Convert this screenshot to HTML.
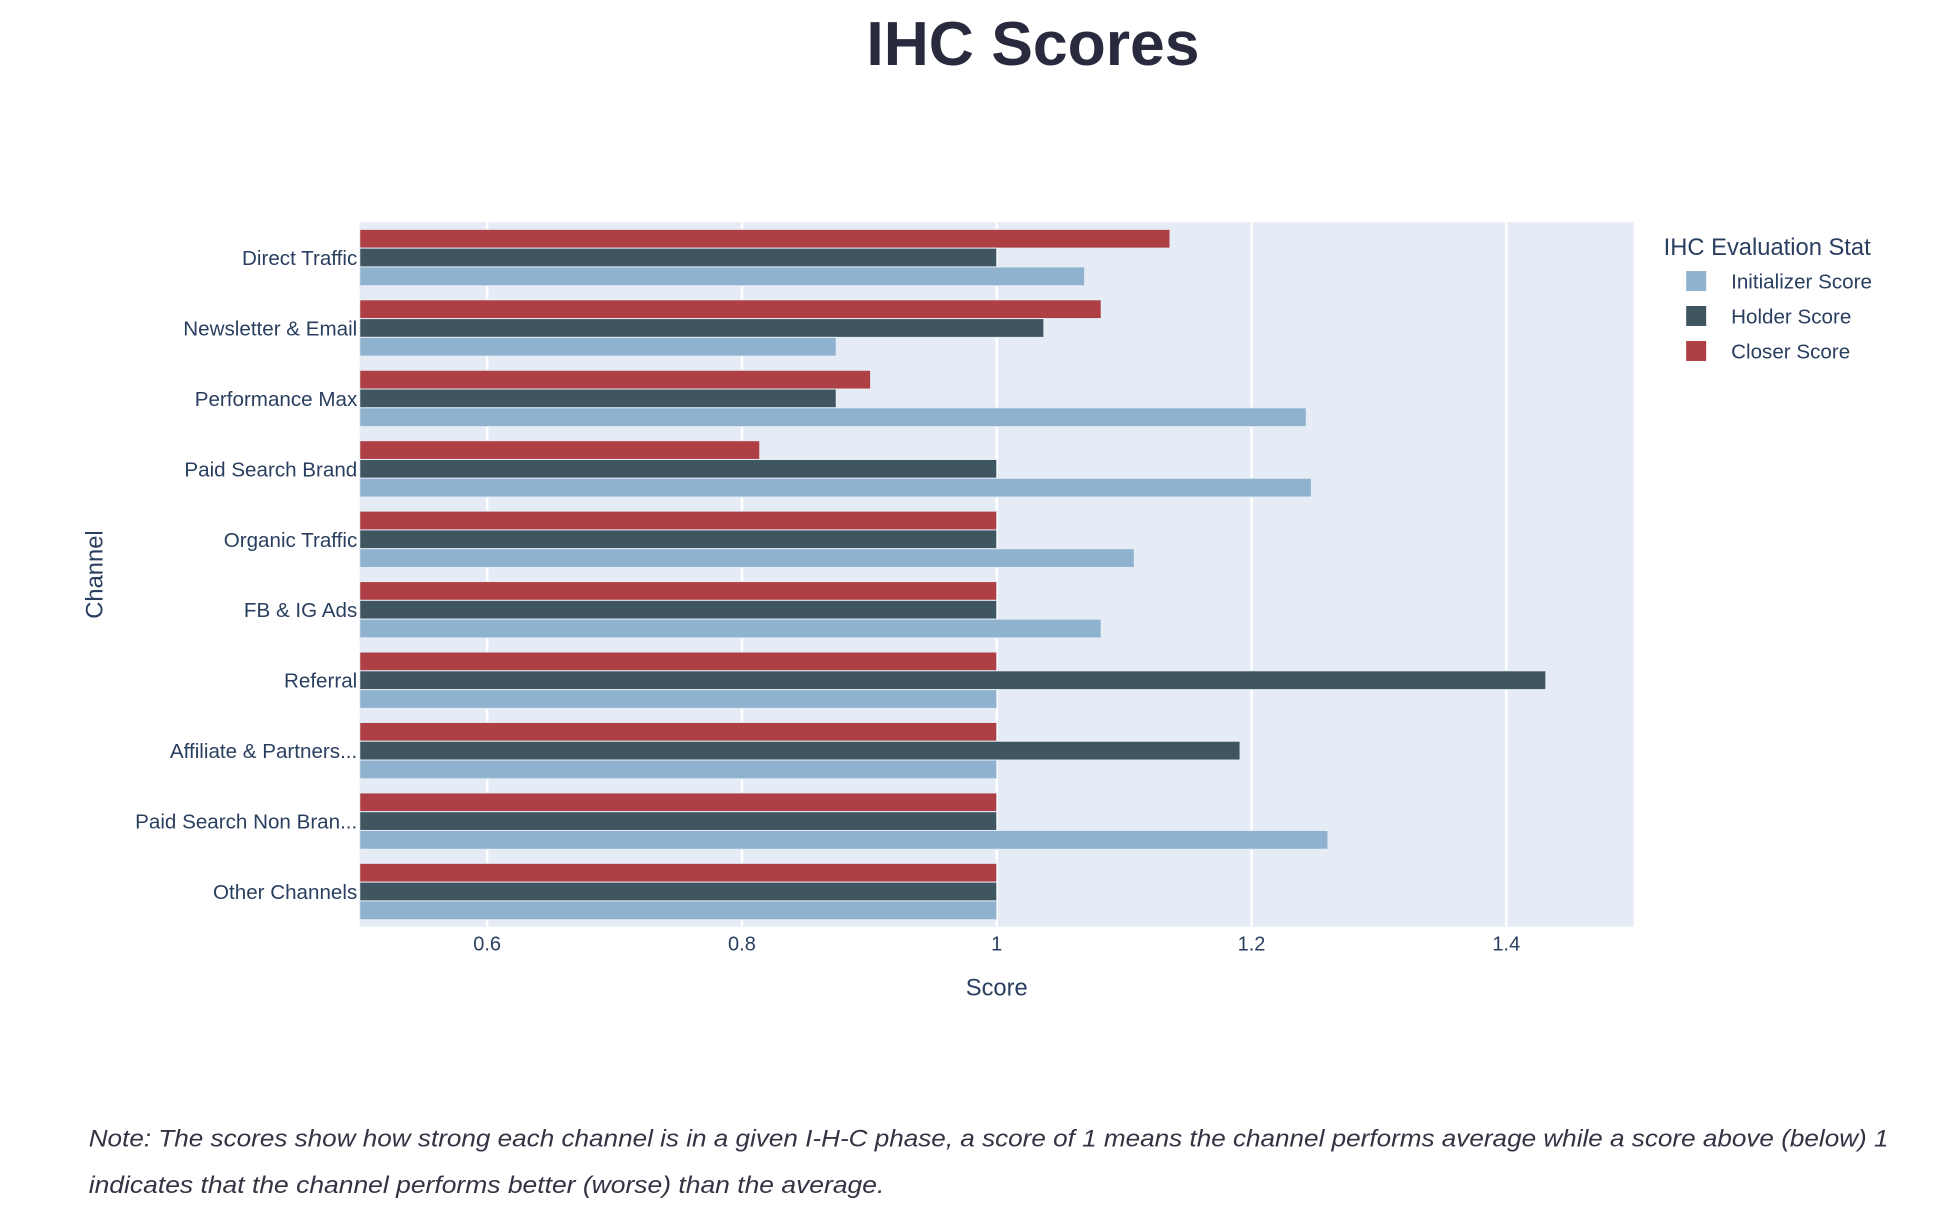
<!DOCTYPE html>
<html><head><meta charset="utf-8"><style>
html,body{margin:0;padding:0;background:#fff;}
svg{display:block;font-family:"Liberation Sans",Arial,sans-serif;}
</style></head><body>
<svg id="chart" width="1956" height="1228" viewBox="0 0 1566 983.2" xmlns="http://www.w3.org/2000/svg">
<text x="827" y="52" text-anchor="middle" font-size="50" font-weight="bold" fill="#2a2a3e">IHC Scores</text>
<rect x="288" y="178" width="1020" height="564" fill="#e5ecf6"/>
<g id="grid"></g>
<g id="bars"></g>
<g id="yticks"></g>
<g id="xticks"></g>
<text x="798" y="797" text-anchor="middle" font-size="19" fill="#2a3f5f">Score</text>
<text transform="translate(82,460) rotate(-90)" text-anchor="middle" font-size="19" fill="#2a3f5f">Channel</text>
<g>
<text x="1332" y="204" font-size="19" fill="#2a3f5f">IHC Evaluation Stat</text>
<g><rect x="1350" y="217" width="16" height="16" fill="#8fb3cf"/><text x="1386" y="231" font-size="16.5" fill="#2a3f5f">Initializer Score</text></g>
<g><rect x="1350" y="245" width="16" height="16" fill="#3f5661"/><text x="1386" y="259" font-size="16.5" fill="#2a3f5f">Holder Score</text></g>
<g><rect x="1350" y="273" width="16" height="16" fill="#ae3f45"/><text x="1386" y="287" font-size="16.5" fill="#2a3f5f">Closer Score</text></g>
</g>
<text x="71" y="918" font-size="19.5" font-style="italic" fill="#333344" textLength="1441" lengthAdjust="spacingAndGlyphs">Note: The scores show how strong each channel is in a given I-H-C phase, a score of 1 means the channel performs average while a score above (below) 1</text>
<text x="71" y="955" font-size="19.5" font-style="italic" fill="#333344" textLength="637" lengthAdjust="spacingAndGlyphs">indicates that the channel performs better (worse) than the average.</text>
</svg>
<script>
const categories = ["Direct Traffic","Newsletter & Email","Performance Max","Paid Search Brand","Organic Traffic","FB & IG Ads","Referral","Affiliate & Partners...","Paid Search Non Bran...","Other Channels"];
const closerValues = [1.136,1.082,0.901,0.814,1,1,1,1,1,1];
const holderValues = [1.0,1.037,0.874,1,1,1,1.431,1.191,1,1];
const initializerValues = [1.069,0.874,1.243,1.247,1.108,1.082,1,1,1.260,1];
const xTicks = [0.6,0.8,1,1.2,1.4];
const xTickLabels = ["0.6","0.8","1","1.2","1.4"];

const NS="http://www.w3.org/2000/svg";
const X0=288,X1=1308,Y0=178,Y1=742,XMIN=0.5,XMAX=1.5;
function xs(v){return X0+(v-XMIN)/(XMAX-XMIN)*(X1-X0);}
const band=(Y1-Y0)/categories.length;
function yc(i){return Y0+band*(i+0.5);}
function mk(tag,attrs,parent){const e=document.createElementNS(NS,tag);for(const k in attrs)e.setAttribute(k,attrs[k]);parent.appendChild(e);return e;}
const grid=document.getElementById('grid'),bars=document.getElementById('bars'),yt=document.getElementById('yticks'),xt=document.getElementById('xticks');
xTicks.forEach((t,i)=>{
  const l=mk('line',{x1:xs(t),x2:xs(t),y1:Y0,y2:Y1,stroke:'#fff','stroke-width':2},grid);
  
  
  const tx=mk('text',{x:xs(t),y:Y1+19,'text-anchor':'middle','font-size':16,fill:'#2a3f5f'},xt);
  tx.textContent=xTickLabels[i];
  
  
});
const series=[{vals:closerValues,color:'#ae3f45',name:'closer'},{vals:holderValues,color:'#3f5661',name:'holder'},{vals:initializerValues,color:'#8fb3cf',name:'initializer'}];
const groupH=band*0.8,barH=groupH/3;
categories.forEach((c,i)=>{
  const top=yc(i)-groupH/2;
  series.forEach((s,j)=>{
    const r=mk('rect',{x:xs(XMIN),y:top+j*barH,width:xs(s.vals[i])-xs(XMIN),height:barH,fill:s.color,stroke:'#e5ecf6','stroke-width':0.8},bars);
    
    
  });
  const t=mk('text',{x:X0-2,y:yc(i)+6,'text-anchor':'end','font-size':16.5,fill:'#2a3f5f'},yt);
  t.textContent=c;
  
  
});
</script>
</body></html>
